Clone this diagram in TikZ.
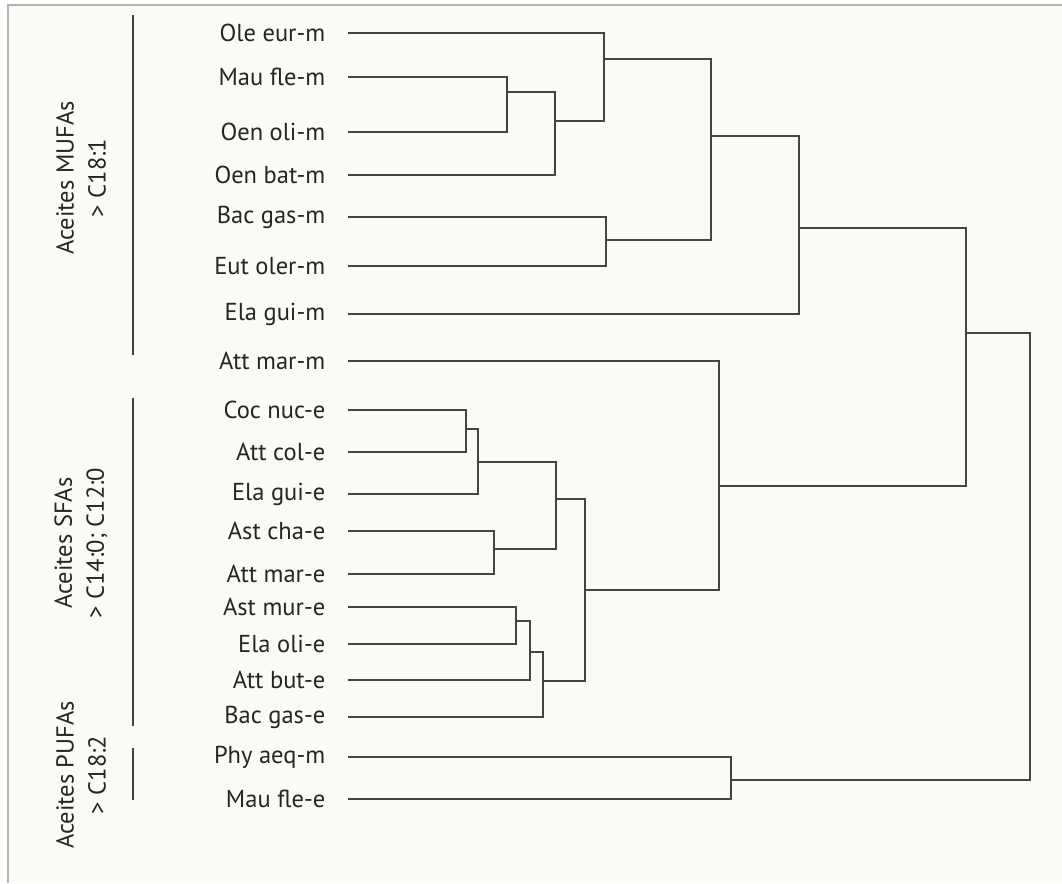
\documentclass[tikz,border=0pt]{standalone}
\usepackage{fontspec}
\setmainfont{PT Sans}
\definecolor{paper}{HTML}{FAFAF6}
\definecolor{frame}{HTML}{B4B4B0}
\definecolor{ink}{HTML}{444444}

\begin{document}
\begin{tikzpicture}[x=1pt, y=-1pt,
    tip/.style={inner sep=0pt, minimum size=0pt},
    lab/.style={text=ink!55!black, font=\fontsize{24.5}{29}\selectfont, label distance=19pt},
    grp/.style={text=ink!55!black, font=\fontsize{24.5}{32}\selectfont, align=center, rotate=90},
    link/.style={draw=ink, line width=2.7pt},
    bar/.style={draw=ink, line width=2.7pt}]

    \useasboundingbox (0,0) rectangle (1062,883);
    \fill[paper] (8,5) rectangle (1062,883);
    \draw[frame, line width=1.2pt] (8,883) -- (8,5) -- (1062,5);

    % leaves
    \node[tip, label={[lab]left:Ole eur-m}]  (oleeurm) at (348,33) {};
    \node[tip, label={[lab]left:Mau fle-m}]  (maoflem) at (348,77) {};
    \node[tip, label={[lab]left:Oen oli-m}]  (oenolim) at (348,132) {};
    \node[tip, label={[lab]left:Oen bat-m}]  (oenbatm) at (348,175) {};
    \node[tip, label={[lab]left:Bac gas-m}]  (bacgasm) at (348,217) {};
    \node[tip, label={[lab]left:Eut oler-m}] (eutolerm) at (348,266) {};
    \node[tip, label={[lab]left:Ela gui-m}]  (elaguim) at (348,314) {};
    \node[tip, label={[lab]left:Att mar-m}]  (attmarm) at (348,361) {};
    \node[tip, label={[lab]left:Coc nuc-e}]  (cocnuce) at (348,410) {};
    \node[tip, label={[lab]left:Att col-e}]  (attcole) at (348,452) {};
    \node[tip, label={[lab]left:Ela gui-e}]  (elaguie) at (348,494) {};
    \node[tip, label={[lab]left:Ast cha-e}]  (astchae) at (348,531) {};
    \node[tip, label={[lab]left:Att mar-e}]  (attmare) at (348,574) {};
    \node[tip, label={[lab]left:Ast mur-e}]  (astmure) at (348,607) {};
    \node[tip, label={[lab]left:Ela oli-e}]  (elaolie) at (348,644) {};
    \node[tip, label={[lab]left:Att but-e}]  (attbute) at (348,680) {};
    \node[tip, label={[lab]left:Bac gas-e}]  (bacgase) at (348,717) {};
    \node[tip, label={[lab]left:Phy aeq-m}]  (phyaeqm) at (348,757) {};
    \node[tip, label={[lab]left:Mau fle-e}]  (mauflee) at (348,799) {};

    % joins
    \coordinate (jA) at (507,92);
    \coordinate (jB) at (555,121);
    \coordinate (jC) at (604,59);
    \coordinate (jD) at (606,240);
    \coordinate (jE) at (711,136);
    \coordinate (jF) at (799,228);
    \coordinate (jG) at (966,333);
    \coordinate (jH) at (466,429);
    \coordinate (jI) at (478,462);
    \coordinate (jJ) at (494,549);
    \coordinate (jK) at (556,499);
    \coordinate (jL) at (516,621);
    \coordinate (jM) at (530,652);
    \coordinate (jN) at (543,681);
    \coordinate (jO) at (585,590);
    \coordinate (jS) at (719,486);
    \coordinate (jP) at (731,780);
    \coordinate (root) at (1030,556);

    \draw[link] (maoflem) -| (jA);
    \draw[link] (oenolim) -| (jA);
    \draw[link] (jA) -| (jB);
    \draw[link] (oenbatm) -| (jB);
    \draw[link] (oleeurm) -| (jC);
    \draw[link] (jB) -| (jC);
    \draw[link] (bacgasm) -| (jD);
    \draw[link] (eutolerm) -| (jD);
    \draw[link] (jC) -| (jE);
    \draw[link] (jD) -| (jE);
    \draw[link] (jE) -| (jF);
    \draw[link] (elaguim) -| (jF);
    \draw[link] (jF) -| (jG);
    \draw[link] (jS) -| (jG);

    \draw[link] (cocnuce) -| (jH);
    \draw[link] (attcole) -| (jH);
    \draw[link] (jH) -| (jI);
    \draw[link] (elaguie) -| (jI);
    \draw[link] (astchae) -| (jJ);
    \draw[link] (attmare) -| (jJ);
    \draw[link] (jI) -| (jK);
    \draw[link] (jJ) -| (jK);
    \draw[link] (astmure) -| (jL);
    \draw[link] (elaolie) -| (jL);
    \draw[link] (jL) -| (jM);
    \draw[link] (attbute) -| (jM);
    \draw[link] (jM) -| (jN);
    \draw[link] (bacgase) -| (jN);
    \draw[link] (jK) -| (jO);
    \draw[link] (jN) -| (jO);
    \draw[link] (attmarm) -| (jS);
    \draw[link] (jO) -| (jS);

    \draw[link] (phyaeqm) -| (jP);
    \draw[link] (mauflee) -| (jP);
    \draw[link] (jG) -| (root);
    \draw[link] (jP) -| (root);

    % groups
    \coordinate (mufatop) at (133,15);
    \coordinate (mufabot) at (133,355);
    \coordinate (sfatop) at (133,398);
    \coordinate (sfabot) at (133,726);
    \coordinate (pufatop) at (133,748);
    \coordinate (pufabot) at (133,800);
    \draw[bar] (mufatop) -- (mufabot);
    \draw[bar] (sfatop) -- (sfabot);
    \draw[bar] (pufatop) -- (pufabot);

    \node[grp] (mufas) at (81,178) {Aceites MUFAs\\> C18:1};
    \node[grp] (sfas) at (81,543) {Aceites SFAs\\> C14:0; C12:0};
    \node[grp] (pufas) at (81,775) {Aceites PUFAs\\> C18:2};

\end{tikzpicture}
\end{document}
